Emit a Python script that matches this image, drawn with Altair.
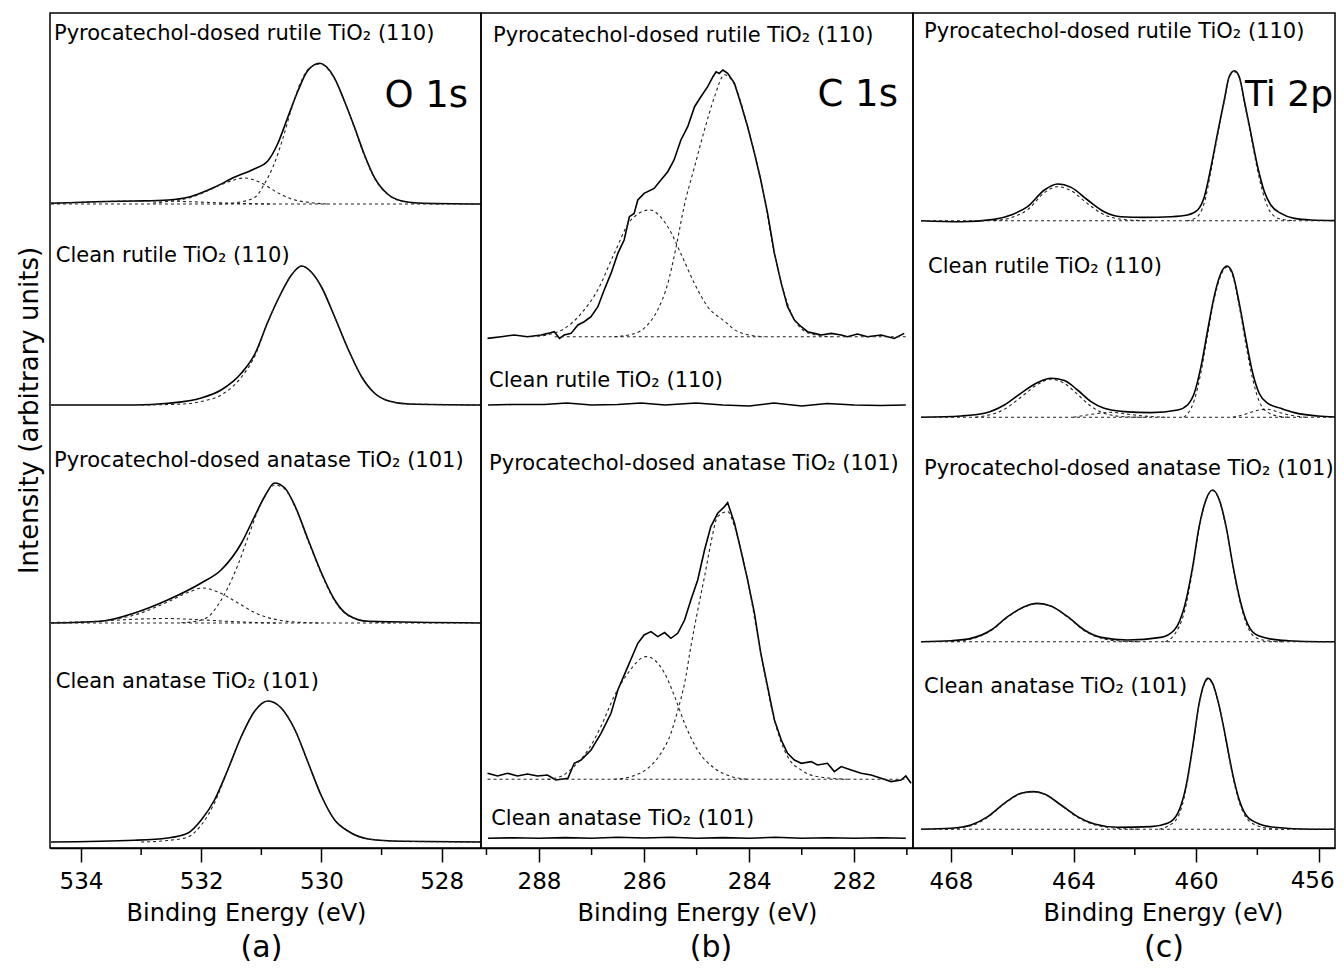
import altair as alt
import pandas as pd

FONT = "DejaVu Sans"

# ------------------------------------------------------------------ O 1s (a)
O_MAJOR = [534, 532, 530, 528]
O_MINOR = [533, 531, 529]
O_OFFSETS = [644, 443, 225, 6]

O_PR_EV = [534.5, 533.6, 533.1, 532.55, 532.2, 531.78, 531.45, 531.12, 530.89, 530.73, 530.56, 530.39,
           530.23, 530.03, 529.79, 529.62, 529.45, 529.29, 529.12, 528.90, 528.68, 528.40, 527.3]
O_PR_INT = [0.7, 2.5, 3, 4, 7, 16.7, 26.7, 35, 43.3, 60, 86.7, 113.3, 133.3, 140.7, 126.7, 103.3, 76.7,
            50, 26.7, 10, 3.3, 1, 0]
O_PR_F1_EV = [531.7, 531.35, 531.1, 530.95, 530.8, 530.65, 530.5, 530.35, 530.2, 530.03, 529.79, 529.62,
              529.45, 529.29, 529.12, 528.90, 528.68, 528.40, 528.0]
O_PR_F1_INT = [0, 2, 7, 20, 38, 64, 95, 121, 136, 140, 126, 103, 76, 49, 26, 9.5, 3, 0.8, 0]
O_PR_F2_EV = [532.8, 532.5, 532.2, 531.9, 531.6, 531.28, 531.0, 530.75, 530.5, 530.2, 529.9]
O_PR_F2_INT = [1, 3, 6, 13, 21, 26, 21, 12, 5, 1.5, 0]
O_PR_F3_EV = [534.5, 533.8, 533.2, 532.7, 532.2, 531.7, 531.2, 530.8]
O_PR_F3_INT = [1, 2, 3, 3, 2.3, 1.2, 0.4, 0]

O_CR_EV = [534.5, 533.1, 532.55, 532.0, 531.67, 531.33, 531.1, 530.9, 530.67, 530.5, 530.33, 530.17, 530.0,
           529.78, 529.55, 529.33, 529.12, 528.88, 528.55, 527.3]
O_CR_INT = [0, 0, 1.7, 7, 15, 32, 52, 82, 112, 130, 139, 133, 118, 88, 55, 28, 12, 4, 1, 0]
O_CR_F_EV = [533.0, 532.3, 532.0, 531.67, 531.33, 531.1, 530.9, 530.67, 530.5, 530.33, 530.17, 530.0,
             529.78, 529.55, 529.33, 529.12, 528.88, 528.55, 527.3]
O_CR_F_INT = [0, 1, 3.5, 10, 28, 50, 82, 112, 130, 139, 133, 118, 88, 55, 28, 12, 4, 1, 0]

O_PA_EV = [534.5, 533.67, 533.11, 532.56, 532.0, 531.67, 531.33, 531.11, 530.94, 530.78, 530.61, 530.44,
           530.22, 530.0, 529.78, 529.56, 529.22, 527.3]
O_PA_INT = [0, 1.7, 10, 23, 40, 53, 80, 107, 127, 140, 135, 117, 83, 50, 23, 8, 1.7, 0]
O_PA_F1_EV = [532.33, 532.11, 531.89, 531.72, 531.56, 531.39, 531.22, 531.06, 530.89, 530.78, 530.61,
              530.44, 530.22, 530.0, 529.78, 529.56, 529.22, 528.8]
O_PA_F1_INT = [0.3, 1.5, 6, 18, 35, 58, 86, 112, 132, 138, 134, 116, 82, 49, 22, 7.5, 1.5, 0]
O_PA_F2_EV = [533.67, 533.11, 532.56, 532.2, 531.97, 531.72, 531.39, 531.06, 530.8, 530.44, 530.0]
O_PA_F2_INT = [2, 8, 21, 31, 35, 31, 20, 9, 4, 1, 0]
O_PA_F3_EV = [534.5, 533.8, 533.2, 532.6, 532.1, 531.6, 531.1, 530.7]
O_PA_F3_INT = [0.5, 1.5, 3.5, 4.5, 3.5, 1.8, 0.5, 0]

O_CA_EV = [534.5, 533.11, 532.56, 532.22, 532.0, 531.78, 531.56, 531.33, 531.11, 530.89, 530.67, 530.44,
           530.22, 530.0, 529.78, 529.56, 529.22, 528.67, 527.3]
O_CA_INT = [0, 1.7, 4, 9, 22, 42, 72, 106, 131, 141, 134, 112, 79, 46, 22, 11, 3, 0.7, 0]
O_CA_F_EV = [533.0, 532.56, 532.22, 532.0, 531.78, 531.56, 531.33, 531.11, 530.89, 530.67, 530.44, 530.22,
             530.0, 529.78, 529.56, 529.22, 528.67, 527.3]
O_CA_F_INT = [0, 1.5, 5, 17, 39, 72, 106, 131, 141, 134, 112, 79, 46, 22, 11, 3, 0.7, 0]

# ------------------------------------------------------------------ C 1s (b)
C_MAJOR = [288, 286, 284, 282]
C_MINOR = [289, 287, 285, 283, 281]
C_OFFSETS = [511.3, 443, 68.7, 9.7]

C_PR_EV = [288.98, 288.72, 288.47, 288.22, 287.96, 287.83, 287.71, 287.61, 287.52, 287.39, 287.26, 287.14,
           287.01, 286.88, 286.76, 286.63, 286.50, 286.38, 286.28, 286.19, 286.12, 286.00, 285.81, 285.68,
           285.55, 285.43, 285.30, 285.17, 285.04, 284.92, 284.79, 284.69, 284.63, 284.57, 284.50, 284.41,
           284.28, 284.16, 284.03, 283.90, 283.78, 283.65, 283.52, 283.39, 283.27, 283.14, 283.01, 282.89,
           282.76, 282.63, 282.44, 282.25, 282.13, 281.94, 281.75, 281.49, 281.24, 281.05]
C_PR_INT = [-1.7, 0, 1.7, 0, 1.7, 3.3, 5, -1.7, 1.7, 3.3, 11.7, 15, 20, 30, 46.7, 63.3, 83.3, 96.7, 120,
            123.3, 136.7, 143.3, 148.3, 156.7, 165, 176.7, 196.7, 210, 230, 240, 250, 260, 265, 263.3, 266.7,
            263.3, 253.3, 233.3, 210, 183.3, 156.7, 123.3, 83.3, 53.3, 30, 16.7, 10, 5, 3.3, 1.7, 3.3, 1.7,
            0, 2.7, 0, 1.7, -1.7, 3.3]
C_PR_F1_EV = [288.15, 287.83, 287.52, 287.20, 286.88, 286.57, 286.25, 285.90, 285.55, 285.30, 285.04,
              284.79, 284.46, 284.28, 284.03, 283.71]
C_PR_F1_INT = [0, 2, 8, 23, 47, 83, 116.7, 126.7, 110, 83, 53, 30, 15, 7, 2, 0]
C_PR_F2_EV = [286.57, 286.19, 285.93, 285.74, 285.55, 285.39, 285.24, 285.04, 284.85, 284.66, 284.47,
              284.28, 284.03, 283.78, 283.52, 283.27, 283.01, 282.76, 282.44]
C_PR_F2_INT = [0, 3, 12, 27, 53, 90, 130, 170, 207, 240, 262, 252, 210, 157, 83, 33, 8, 2, 0]

C_CR_EV = [288.97, 288.5, 287.9, 287.47, 287.0, 286.5, 286.06, 285.6, 285.01, 284.5, 284.0, 283.53, 283.0,
           282.52, 282.0, 281.5, 281.02]
C_CR_INT = [0, 0.5, 0.5, 2, 0, 0.5, 2, 0, 2, 0, -1, 2, -1, 1.5, 0, -0.5, 0]

C_PA_EV = [288.98, 288.79, 288.60, 288.41, 288.22, 288.03, 287.84, 287.68, 287.45, 287.33, 287.20, 287.01,
           286.82, 286.63, 286.50, 286.31, 286.12, 286.00, 285.87, 285.74, 285.61, 285.49, 285.36, 285.23,
           285.11, 284.98, 284.85, 284.73, 284.60, 284.47, 284.41, 284.28, 284.16, 284.03, 283.90, 283.78,
           283.65, 283.52, 283.39, 283.27, 283.14, 283.01, 282.82, 282.70, 282.51, 282.38, 282.25, 282.06,
           281.87, 281.68, 281.49, 281.30, 281.11, 281.02, 280.92]
C_PA_INT = [6, 3.3, 6, 3.3, 5.3, 3.3, 4.3, -0.7, 1, 16, 19.3, 29.3, 46, 66, 89.3, 112.7, 136, 144.3, 147.7,
            142.7, 146.7, 141, 146, 159.3, 179.3, 199.3, 229.3, 252.7, 266, 272.7, 276.7, 256, 229.3, 199.3,
            166, 126, 92.7, 59.3, 39.3, 26, 19.3, 16, 17.7, 14.3, 16, 7.7, 12.7, 9.3, 6, 4.3, 1, -2.3, -0.7,
            3.3, -4]
C_PA_F1_EV = [287.84, 287.58, 287.33, 287.07, 286.82, 286.57, 286.31, 285.96, 285.61, 285.42, 285.23,
              284.98, 284.66, 284.35, 284.03]
C_PA_F1_INT = [0, 3, 13, 29, 53, 83, 106, 122.7, 106, 83, 56, 29, 11, 3, 0]
C_PA_F2_EV = [286.57, 286.25, 285.93, 285.68, 285.49, 285.36, 285.23, 285.11, 284.98, 284.85, 284.73,
              284.60, 284.41, 284.28, 284.03, 283.78, 283.52, 283.27, 283.01, 282.76, 282.13]
C_PA_F2_INT = [0, 2.7, 11, 26, 46, 69, 96, 132.7, 169, 202.7, 236, 262.7, 267.7, 252.7, 199, 126, 59, 22.7,
               9.3, 3.3, 0]

C_CA_EV = [288.97, 288.5, 288.0, 287.5, 287.0, 286.5, 286.0, 285.5, 285.0, 284.5, 284.0, 283.5, 283.0,
           282.5, 282.0, 281.5, 281.02]
C_CA_INT = [0, 0.5, 0, 0.7, 0, 1, 0.3, 1, 0, 0.7, 0, 1, 0, 0.5, 0, 0.5, 0]

# ------------------------------------------------------------------ Ti 2p (c)
T_MAJOR = [468, 464, 460, 456]
T_MINOR = [466, 462, 458]
T_OFFSETS = [627.3, 430.7, 206.3, 18.7]

T_PR_EV = [468.98, 467.67, 466.59, 466.04, 465.50, 464.95, 464.52, 464.08, 463.54, 463.00, 462.45, 461.69,
           460.82, 460.28, 459.95, 459.73, 459.51, 459.30, 459.08, 458.92, 458.75, 458.59, 458.43, 458.21,
           457.99, 457.77, 457.56, 457.23, 456.79, 456.25, 455.16]
T_PR_INT = [0, -1, 1.3, 5.7, 14, 30.7, 36.7, 33.3, 20.7, 9, 4, 3.3, 4, 5.7, 10.7, 24, 54, 87.3, 120.7, 144,
            150, 144, 120.7, 87.3, 54, 29, 15.7, 7.3, 2.3, 0.7, 0]
T_PR_F1_EV = [460.3, 460.0, 459.73, 459.51, 459.30, 459.08, 458.92, 458.75, 458.59, 458.43, 458.21, 457.99,
              457.77, 457.56, 457.23, 456.8]
T_PR_F1_INT = [0, 3, 18, 50, 85, 119, 143, 149, 143, 119, 85, 50, 23, 8, 1.5, 0]
T_PR_F2_EV = [466.6, 466.04, 465.5, 464.95, 464.52, 464.08, 463.54, 463.0, 462.45, 461.7]
T_PR_F2_INT = [0, 3, 11, 28, 34, 30, 17, 6, 1.5, 0]

T_CR_EV = [468.98, 467.67, 466.91, 466.26, 465.72, 465.17, 464.74, 464.30, 463.87, 463.43, 463.00, 462.34,
           461.47, 460.60, 460.28, 460.06, 459.84, 459.62, 459.41, 459.19, 458.99, 458.81, 458.59, 458.37,
           458.15, 457.94, 457.66, 457.23, 456.79, 456.03, 455.16]
T_CR_INT = [0, 1.3, 4, 12.3, 24, 34.7, 39, 36.7, 27.3, 15.7, 9, 5.7, 4.7, 7.3, 12.3, 24, 50.7, 87.3, 120.7,
            144, 151.3, 144, 114, 77.3, 44, 24, 14, 9, 4.7, 1.3, 0]
T_CR_F1_EV = [460.4, 460.06, 459.84, 459.62, 459.41, 459.19, 458.99, 458.81, 458.59, 458.37, 458.15, 457.94,
              457.66, 457.3, 457.0]
T_CR_F1_INT = [0, 17, 45, 83, 118, 142, 150, 142, 111, 72, 38, 16, 5, 1, 0]
T_CR_F2_EV = [467.2, 466.26, 465.72, 465.17, 464.74, 464.30, 463.87, 463.43, 463.0, 462.3, 461.6]
T_CR_F2_INT = [0, 8, 20, 33, 38, 34, 23, 11, 4, 0.5, 0]
T_CR_F3_EV = [458.8, 458.4, 458.0, 457.66, 457.3, 456.9, 456.4]
T_CR_F3_INT = [0, 3, 7, 8, 5, 2, 0]
T_CR_F4_EV = [464.0, 463.4, 462.8, 462.2, 461.6, 461.0]
T_CR_F4_INT = [0, 3, 5, 3, 1, 0]

T_PA_EV = [468.98, 468.00, 467.35, 466.69, 466.15, 465.61, 465.17, 464.74, 464.19, 463.65, 463.10, 462.23,
           461.15, 460.71, 460.38, 460.11, 459.90, 459.68, 459.46, 459.24, 459.02, 458.81, 458.59, 458.37,
           458.10, 457.66, 457.01, 455.92, 455.16]
T_PA_INT = [0, 1, 3.3, 11.7, 25, 35, 38.3, 35.7, 25, 11.7, 4.3, 1.7, 4.3, 11.7, 35, 75, 115, 141.7, 151.7,
            141.7, 115, 78.3, 45, 21.7, 8.3, 3.3, 1, 0, 0]
T_PA_F1_EV = [461.0, 460.71, 460.38, 460.11, 459.90, 459.68, 459.46, 459.24, 459.02, 458.81, 458.59,
              458.37, 458.10, 457.7, 457.2]
T_PA_F1_INT = [0, 7, 30, 72, 113, 141, 151, 141, 114, 77, 43, 19, 5, 1, 0]
T_PA_F2_EV = [468.0, 467.35, 466.69, 466.15, 465.61, 465.17, 464.74, 464.19, 463.65, 463.10, 462.4, 461.8]
T_PA_F2_INT = [0, 2.5, 11, 24.5, 34.5, 38, 35.5, 24.5, 11, 3.5, 0.5, 0]

T_CA_EV = [468.98, 468.00, 467.35, 466.80, 466.26, 465.72, 465.33, 464.95, 464.41, 463.87, 463.32, 462.56,
           461.47, 460.93, 460.60, 460.33, 460.11, 459.90, 459.73, 459.62, 459.46, 459.24, 459.02, 458.81,
           458.59, 458.37, 457.99, 457.45, 456.25, 455.16]
T_CA_INT = [0, 1, 4.3, 12.7, 26, 36, 37.7, 35.3, 24.3, 12.7, 5.3, 2, 2.7, 6, 16, 42.7, 82.7, 126, 146, 151,
            146, 122.7, 89.3, 56, 29.3, 14.3, 6, 2, 0, 0]
T_CA_F1_EV = [461.2, 460.93, 460.60, 460.33, 460.11, 459.90, 459.73, 459.62, 459.46, 459.24, 459.02,
              458.81, 458.59, 458.37, 457.99, 457.5, 457.0]
T_CA_F1_INT = [0, 3, 12, 40, 81, 125, 145, 150, 145, 122, 88, 54, 27, 12, 3.5, 0.5, 0]
T_CA_F2_EV = [468.2, 467.35, 466.80, 466.26, 465.72, 465.33, 464.95, 464.41, 463.87, 463.32, 462.56, 461.8]
T_CA_F2_INT = [0, 3.5, 12, 25.5, 35.5, 37.5, 35, 24, 12, 4.5, 1, 0]

# ------------------------------------------------------------------ labels
SAMPLES = ["Pyrocatechol-dosed rutile TiO\u2082 (110)", "Clean rutile TiO\u2082 (110)",
           "Pyrocatechol-dosed anatase TiO\u2082 (101)", "Clean anatase TiO\u2082 (101)"]
O_LABEL_EV = [534.45, 534.42, 534.45, 534.42]
O_LABEL_Y = [808, 586, 381, 160]
C_LABEL_EV = [288.875, 288.95, 288.95, 288.91]
C_LABEL_Y = [806, 461, 378, 23]
T_LABEL_EV = [468.88, 468.75, 468.88, 468.88]
T_LABEL_Y = [810, 575, 373, 155]
CORE = ["O 1s", "C 1s", "Ti 2p"]
CORE_EV = [527.56, 281.17, 455.53]
CORE_Y = [741, 742, 742]

H = 835
TICK = 14
LABEL_PAD = 8


def rows(sid, ev, inten, offset, kind):
    return [{"ev": e, "y": offset + v, "sid": sid, "kind": kind} for e, v in zip(ev, inten)]


def make_panel(series, baselines, labels, core, domain, major, minor, width,
               solid_interp, xtitle_x, letter, letter_dx, yaxis, core_align, edge_label=None):
    data = []
    for s in series:
        data += rows(*s)
    for sid, lo, hi, off in baselines:
        data += rows(sid, [lo, hi], [0, 0], off, "base")
    df = pd.DataFrame(data)

    if edge_label is None:
        lexpr = "datum.label"
    else:
        lexpr = "datum.value == %d ? '' : datum.label" % edge_label
    x_axis = alt.Axis(values=major, format="d", tickSize=TICK, tickWidth=1.5, tickColor="black",
                      domainColor="black", domainWidth=1.5, labelFontSize=23, labelPadding=LABEL_PAD,
                      labelFlush=False, labelOverlap=False, labelExpr=lexpr, title="Binding Energy (eV)",
                      titleFontSize=24, titlePadding=8, titleX=xtitle_x, grid=False)
    xs = alt.Scale(domain=domain, reverse=True, nice=False, zero=False)
    ys = alt.Scale(domain=[0, H], nice=False, zero=False)
    x = alt.X("ev:Q", scale=xs, axis=x_axis)
    y = alt.Y("y:Q", scale=ys, axis=yaxis)

    base = alt.Chart(df)
    solid = base.transform_filter("datum.kind == 'solid'").mark_line(
        color="black", strokeWidth=1.6, interpolate=solid_interp, clip=True
    ).encode(x=x, y=y, detail="sid:N")
    fit = base.transform_filter("datum.kind == 'fit'").mark_line(
        color="#222222", strokeWidth=1.1, strokeDash=[3, 3], interpolate="monotone", clip=True
    ).encode(x="ev:Q", y="y:Q", detail="sid:N")
    bl = base.transform_filter("datum.kind == 'base'").mark_line(
        color="#222222", strokeWidth=1.1, strokeDash=[3, 3], clip=True
    ).encode(x="ev:Q", y="y:Q", detail="sid:N")

    lab_df = pd.DataFrame({"ev": labels[0], "y": labels[1], "t": SAMPLES})
    lab = alt.Chart(lab_df).mark_text(
        align="left", baseline="alphabetic", font=FONT, fontSize=21, color="black"
    ).encode(x="ev:Q", y="y:Q", text="t:N")

    core_df = pd.DataFrame({"ev": [core[0]], "y": [core[1]], "t": [core[2]]})
    core_t = alt.Chart(core_df).mark_text(
        align=core_align, baseline="alphabetic", font=FONT, fontSize=core[3], color="black"
    ).encode(x="ev:Q", y="y:Q", text="t:N")

    minor_df = pd.DataFrame({"ev": minor})
    minor_r = alt.Chart(minor_df).mark_rule(color="black", strokeWidth=1.5).encode(
        x="ev:Q", y=alt.value(H), y2=alt.value(H + 7)
    )
    layers = [solid, fit, bl, lab, core_t, minor_r]
    if edge_label is not None:
        edge_df = pd.DataFrame({"ev": [edge_label], "t": [str(edge_label)]})
        layers.append(alt.Chart(edge_df).mark_text(
            align="right", baseline="top", font=FONT, fontSize=23, color="black", dx=16
        ).encode(x="ev:Q", y=alt.value(H + TICK + LABEL_PAD), text="t:N"))

    return alt.layer(*layers).properties(
        width=width, height=H,
        title=alt.TitleParams(letter, orient="bottom", fontSize=30, font=FONT, fontWeight="normal",
                              color="black", anchor="middle", dx=letter_dx, offset=8),
    )


o_series = [
    ("pr", O_PR_EV, O_PR_INT, O_OFFSETS[0], "solid"),
    ("pr1", O_PR_F1_EV, O_PR_F1_INT, O_OFFSETS[0], "fit"),
    ("pr2", O_PR_F2_EV, O_PR_F2_INT, O_OFFSETS[0], "fit"),
    ("pr3", O_PR_F3_EV, O_PR_F3_INT, O_OFFSETS[0], "fit"),
    ("cr", O_CR_EV, O_CR_INT, O_OFFSETS[1], "solid"),
    ("cr1", O_CR_F_EV, O_CR_F_INT, O_OFFSETS[1], "fit"),
    ("pa", O_PA_EV, O_PA_INT, O_OFFSETS[2], "solid"),
    ("pa1", O_PA_F1_EV, O_PA_F1_INT, O_OFFSETS[2], "fit"),
    ("pa2", O_PA_F2_EV, O_PA_F2_INT, O_OFFSETS[2], "fit"),
    ("pa3", O_PA_F3_EV, O_PA_F3_INT, O_OFFSETS[2], "fit"),
    ("ca", O_CA_EV, O_CA_INT, O_OFFSETS[3], "solid"),
    ("ca1", O_CA_F_EV, O_CA_F_INT, O_OFFSETS[3], "fit"),
]
o_base = [("b1", 534.5, 527.4, O_OFFSETS[0]), ("b3", 534.5, 527.4, O_OFFSETS[2])]

c_series = [
    ("pr", C_PR_EV, C_PR_INT, C_OFFSETS[0], "solid"),
    ("pr1", C_PR_F1_EV, C_PR_F1_INT, C_OFFSETS[0], "fit"),
    ("pr2", C_PR_F2_EV, C_PR_F2_INT, C_OFFSETS[0], "fit"),
    ("cr", C_CR_EV, C_CR_INT, C_OFFSETS[1], "solid"),
    ("pa", C_PA_EV, C_PA_INT, C_OFFSETS[2], "solid"),
    ("pa1", C_PA_F1_EV, C_PA_F1_INT, C_OFFSETS[2], "fit"),
    ("pa2", C_PA_F2_EV, C_PA_F2_INT, C_OFFSETS[2], "fit"),
    ("ca", C_CA_EV, C_CA_INT, C_OFFSETS[3], "solid"),
]
c_base = [("b1", 287.7, 281.0, C_OFFSETS[0]), ("b3", 288.98, 281.0, C_OFFSETS[2])]

t_series = [
    ("pr", T_PR_EV, T_PR_INT, T_OFFSETS[0], "solid"),
    ("pr1", T_PR_F1_EV, T_PR_F1_INT, T_OFFSETS[0], "fit"),
    ("pr2", T_PR_F2_EV, T_PR_F2_INT, T_OFFSETS[0], "fit"),
    ("cr", T_CR_EV, T_CR_INT, T_OFFSETS[1], "solid"),
    ("cr1", T_CR_F1_EV, T_CR_F1_INT, T_OFFSETS[1], "fit"),
    ("cr2", T_CR_F2_EV, T_CR_F2_INT, T_OFFSETS[1], "fit"),
    ("cr3", T_CR_F3_EV, T_CR_F3_INT, T_OFFSETS[1], "fit"),
    ("cr4", T_CR_F4_EV, T_CR_F4_INT, T_OFFSETS[1], "fit"),
    ("pa", T_PA_EV, T_PA_INT, T_OFFSETS[2], "solid"),
    ("pa1", T_PA_F1_EV, T_PA_F1_INT, T_OFFSETS[2], "fit"),
    ("pa2", T_PA_F2_EV, T_PA_F2_INT, T_OFFSETS[2], "fit"),
    ("ca", T_CA_EV, T_CA_INT, T_OFFSETS[3], "solid"),
    ("ca1", T_CA_F1_EV, T_CA_F1_INT, T_OFFSETS[3], "fit"),
    ("ca2", T_CA_F2_EV, T_CA_F2_INT, T_OFFSETS[3], "fit"),
]
t_base = [("b%d" % i, 468.98, 455.0, T_OFFSETS[i]) for i in range(4)]

y_left = alt.Axis(title="Intensity (arbitrary units)", labels=False, ticks=False, domain=False, grid=False,
                  titleFontSize=26, titleX=-21, titleY=397, titleBaseline="middle", titleAngle=-90)

pa = make_panel(o_series, o_base, (O_LABEL_EV, O_LABEL_Y), (CORE_EV[0], CORE_Y[0], CORE[0], 37),
                [527.346, 534.516], O_MAJOR, O_MINOR, 431, "monotone", 196, "(a)", -4, y_left, "right")
pb = make_panel(c_series, c_base, (C_LABEL_EV, C_LABEL_Y), (CORE_EV[1], CORE_Y[1], CORE[1], 37),
                [280.883, 289.104], C_MAJOR, C_MINOR, 432, "linear", 216, "(b)", 14, None, "right")
pc = make_panel(t_series, t_base, (T_LABEL_EV, T_LABEL_Y), (CORE_EV[2], CORE_Y[2], CORE[2], 36),
                [455.465, 469.24], T_MAJOR, T_MINOR, 422, "monotone", 250, "(c)", 40, None, "right",
                edge_label=456)

chart = alt.hconcat(pa, pb, pc, spacing=0, bounds="flush").properties(
    padding={"left": 7, "top": 4, "right": 0, "bottom": 0}, background="white"
).configure_view(stroke="black", strokeWidth=1.5).configure_axis(
    labelFont=FONT, titleFont=FONT, labelColor="black", titleColor="black", titleFontWeight="normal"
).configure_title(font=FONT, color="black")

chart.save("out.html", embed_options={"renderer": "svg", "actions": False})
